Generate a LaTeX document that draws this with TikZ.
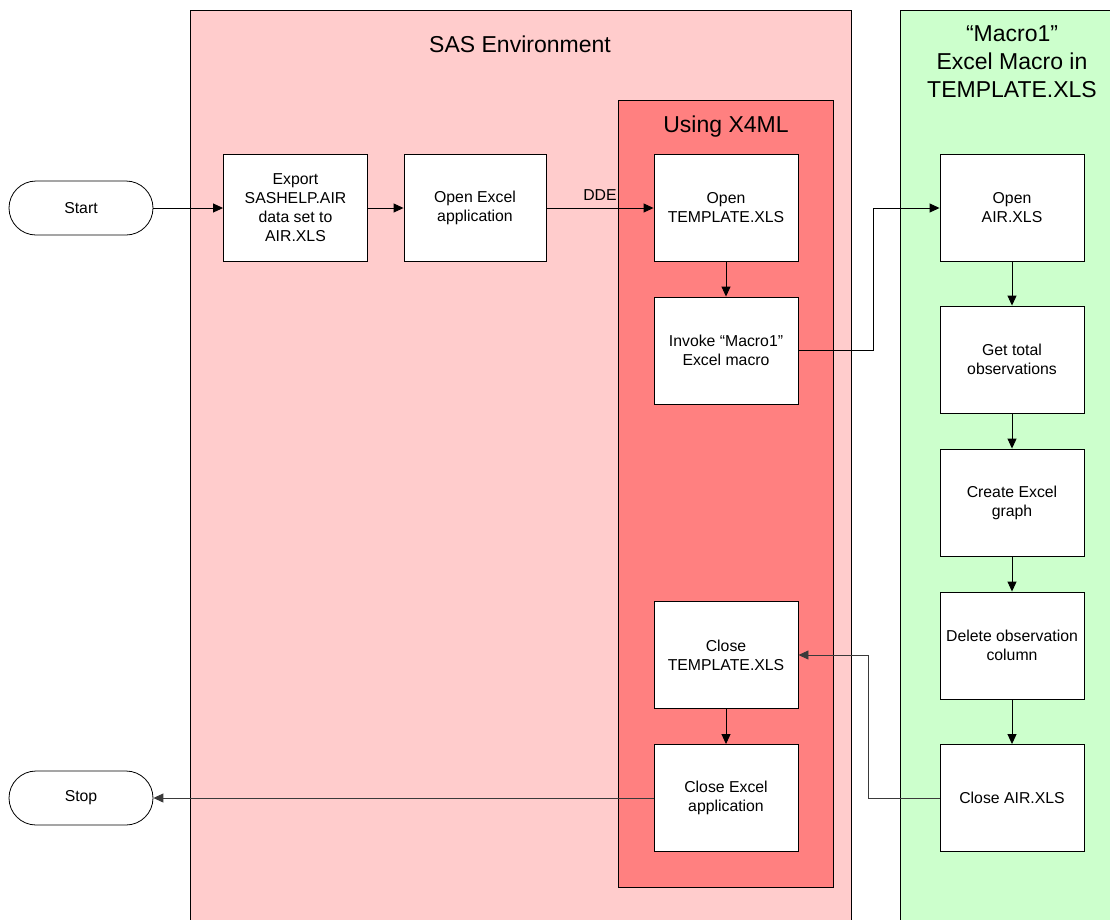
\documentclass[tikz,border=0pt]{standalone}
\usepackage{fontspec}
\setmainfont{Liberation Sans}
\usetikzlibrary{arrows.meta}
\definecolor{sasbg}{HTML}{FFCCCC}
\definecolor{x4bg}{HTML}{FF8080}
\definecolor{macbg}{HTML}{CCFFCC}
\definecolor{linegray}{HTML}{3A3A3A}
\tikzset{
  procbox/.style={draw=black, line width=0.9pt, fill=white, minimum width=144pt, minimum height=107pt, inner sep=0pt, align=center, font=\fontsize{15.8}{19}\selectfont, anchor=center},
  termbox/.style={draw=black, line width=0.8pt, fill=white, rounded corners=27pt, minimum width=144pt, minimum height=54pt, inner sep=0pt, align=center, font=\fontsize{15.8}{19}\selectfont},
  titletext/.style={align=center, font=\fontsize{23}{28}\selectfont, inner sep=0pt},
  flow/.style={draw=black, line width=0.9pt, -{Triangle[length=10pt,width=9pt]}},
  flowgray/.style={draw=linegray, line width=0.9pt, -{Triangle[length=10pt,width=9pt]}},
  panel/.style={draw=black, line width=1pt}
}
\begin{document}
\begin{tikzpicture}[x=1pt,y=-1pt]
\useasboundingbox (0,0) rectangle (1110,919);
\fill[white] (0,0) rectangle (1110,919);
\begin{scope}
\clip (0,0) rectangle (1110,919);
% panels
\path[panel, fill=sasbg] (190.5,10) rectangle (851,935);
\path[panel, fill=macbg] (900.5,10) rectangle (1125,935);
\path[panel, fill=x4bg] (618.5,100) rectangle (833.5,887);
\end{scope}
% titles
\node[titletext] (sastitle) at (520,44) {SAS Environment};
\node[titletext] (x4title) at (726,127) {Using X4ML};
\node[titletext] (mactitle) at (1012,62) {“Macro1”\\Excel Macro in\\TEMPLATE.XLS};
% terminals
\node[termbox] (start) at (81,208) {Start};
\node[termbox] (stop) at (81,798) {Stop};
% SAS boxes
\node[procbox] (export) at (295.5,208) {Export\\SASHELP.AIR\\data set to\\AIR.XLS};
\node[procbox, minimum width=142pt] (openexcel) at (475,208) {Open Excel\\application};
% X4ML boxes
\node[procbox] (opent) at (726,208) {Open\\TEMPLATE.XLS};
\node[procbox] (invoke) at (726,350.5) {Invoke “Macro1\symbol{34}\\Excel macro};
\node[procbox] (closet) at (726,655) {Close\\TEMPLATE.XLS};
\node[procbox] (closex) at (726,798) {Close Excel\\application};
% Macro boxes
\node[procbox] (openair) at (1012,208) {Open\\AIR.XLS};
\node[procbox] (gettotal) at (1012,359.5) {Get total\\observations};
\node[procbox] (create) at (1012,502.5) {Create Excel\\graph};
\node[procbox] (delete) at (1012,645.5) {Delete observation\\column};
\node[procbox] (closeair) at (1012,798) {Close AIR.XLS};
% connectors
\draw[flow] (start) -- (export);
\draw[flow] (export) -- (openexcel);
\draw[flow] (openexcel) -- node[above=7pt, font=\fontsize{15.8}{19}\selectfont, inner sep=0pt] (ddelabel) {DDE} (opent);
\draw[flow] (opent) -- (invoke);
\draw[flow] (invoke.east) -- ++(75,0) |- (openair.west);
\draw[flow] (openair) -- (gettotal);
\draw[flow] (gettotal) -- (create);
\draw[flow] (create) -- (delete);
\draw[flow] (delete) -- (closeair);
\draw[flowgray] (closeair.west) -- ++(-71,0) |- (closet.east);
\draw[flow] (closet) -- (closex);
\draw[flowgray] (closex) -- (stop);
\end{tikzpicture}
\end{document}
